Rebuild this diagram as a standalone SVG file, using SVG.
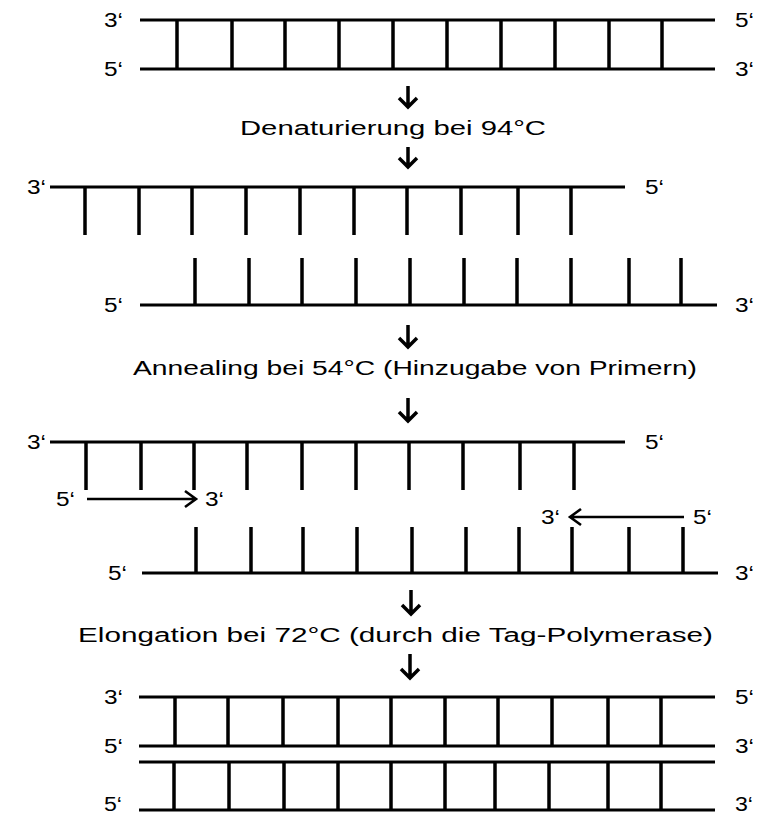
<svg xmlns="http://www.w3.org/2000/svg" width="757" height="816" viewBox="0 0 757 816">
<style>
.s{stroke:#000;stroke-width:3;fill:none;stroke-linecap:butt}
.r{stroke:#000;stroke-width:3.5;fill:none}
.a{stroke:#000;stroke-width:3.5;fill:none;stroke-linejoin:miter}
.p{stroke:#000;stroke-width:2.6;fill:none}
.t{font-family:"Liberation Sans",Arial,Helvetica,sans-serif;font-size:20px;fill:#000}
</style>
<rect width="757" height="816" fill="#fff"/>
<g id="ladder1">
<path class="s" d="M140,20H715M140,69H715"/>
<path class="r" d="M177,20V69M232,20V69M285,20V69M339,20V69M393,20V69M447,20V69M501,20V69M555,20V69M609,20V69M662,20V69"/>
<text class="t" x="104" y="27" textLength="19" lengthAdjust="spacingAndGlyphs">3‘</text>
<text class="t" x="104" y="76" textLength="19" lengthAdjust="spacingAndGlyphs">5‘</text>
<text class="t" x="735" y="27" textLength="19" lengthAdjust="spacingAndGlyphs">5‘</text>
<text class="t" x="735" y="76" textLength="19" lengthAdjust="spacingAndGlyphs">3‘</text>
</g>
<g id="step-denaturation">
<text class="t" x="240" y="135" textLength="306" lengthAdjust="spacingAndGlyphs">Denaturierung bei 94°C</text>
</g>
<g id="strands-separated">
<path class="s" d="M50,187H625"/>
<path class="r" d="M85,187V235M139,187V235M192,187V235M246,187V235M300,187V235M354,187V235M407,187V235M461,187V235M518,187V235M571,187V235"/>
<text class="t" x="27" y="194" textLength="19" lengthAdjust="spacingAndGlyphs">3‘</text>
<text class="t" x="645" y="194" textLength="19" lengthAdjust="spacingAndGlyphs">5‘</text>
<path class="s" d="M140,305H717"/>
<path class="r" d="M195,305V258M249,305V258M302,305V258M356,305V258M410,305V258M464,305V258M517,305V258M571,305V258M629,305V258M681,305V258"/>
<text class="t" x="104" y="312" textLength="19" lengthAdjust="spacingAndGlyphs">5‘</text>
<text class="t" x="735" y="312" textLength="19" lengthAdjust="spacingAndGlyphs">3‘</text>
</g>
<g id="step-annealing">
<text class="t" x="133" y="375" textLength="564" lengthAdjust="spacingAndGlyphs">Annealing bei 54°C (Hinzugabe von Primern)</text>
</g>
<g id="strands-primed">
<path class="s" d="M50,442H625"/>
<path class="r" d="M86,442V490M141,442V490M194,442V490M247,442V490M302,442V490M356,442V490M409,442V490M463,442V490M520,442V490M574,442V490"/>
<text class="t" x="27" y="449" textLength="19" lengthAdjust="spacingAndGlyphs">3‘</text>
<text class="t" x="645" y="449" textLength="19" lengthAdjust="spacingAndGlyphs">5‘</text>
<path class="s" d="M142,573H718"/>
<path class="r" d="M196,573V527M251,573V527M303,573V527M357,573V527M412,573V527M466,573V527M519,573V527M572,573V527M629,573V527M683,573V527"/>
<text class="t" x="108" y="580" textLength="19" lengthAdjust="spacingAndGlyphs">5‘</text>
<text class="t" x="735" y="580" textLength="19" lengthAdjust="spacingAndGlyphs">3‘</text>
</g>
<g id="primer-forward">
<path class="p" d="M87,499H195M185,491L196,499L185,507"/>
<text class="t" x="56" y="506" textLength="19" lengthAdjust="spacingAndGlyphs">5‘</text>
<text class="t" x="205" y="506" textLength="19" lengthAdjust="spacingAndGlyphs">3‘</text>
</g>
<g id="primer-reverse">
<path class="p" d="M684,517H571M581,509L570,517L581,525"/>
<text class="t" x="541" y="524" textLength="19" lengthAdjust="spacingAndGlyphs">3‘</text>
<text class="t" x="693" y="524" textLength="19" lengthAdjust="spacingAndGlyphs">5‘</text>
</g>
<g id="step-elongation">
<text class="t" x="78" y="642" textLength="635" lengthAdjust="spacingAndGlyphs">Elongation bei 72°C (durch die Tag-Polymerase)</text>
</g>
<g id="ladder-products">
<path class="s" d="M139,697H715M139,746H715M139,762H715M139,810H715"/>
<path class="r" d="M175,697V746M228,697V746M283,697V746M338,697V746M391,697V746M445,697V746M498,697V746M552,697V746M608,697V746M661,697V746"/>
<path class="r" d="M174,762V810M229,762V810M284,762V810M338,762V810M391,762V810M445,762V810M495,762V810M549,762V810M608,762V810M661,762V810"/>
<text class="t" x="104" y="704" textLength="19" lengthAdjust="spacingAndGlyphs">3‘</text>
<text class="t" x="104" y="753" textLength="19" lengthAdjust="spacingAndGlyphs">5‘</text>
<text class="t" x="104" y="811" font-size="18" textLength="18" lengthAdjust="spacingAndGlyphs">5‘</text>
<text class="t" x="735" y="704" textLength="19" lengthAdjust="spacingAndGlyphs">5‘</text>
<text class="t" x="735" y="753" textLength="19" lengthAdjust="spacingAndGlyphs">3‘</text>
<text class="t" x="735" y="811" font-size="18" textLength="18" lengthAdjust="spacingAndGlyphs">3‘</text>
</g>
<g id="connectors">
<path class="a" d="M408,86V107M399,98L408,107L417,98"/>
<path class="a" d="M408,147V167M399,158L408,167L417,158"/>
<path class="a" d="M408,325V347M399,338L408,347L417,338"/>
<path class="a" d="M408,398V421M399,412L408,421L417,412"/>
<path class="a" d="M411,590V614M402,605L411,614L420,605"/>
<path class="a" d="M410,654V678M401,669L410,678L419,669"/>
</g>
</svg>
